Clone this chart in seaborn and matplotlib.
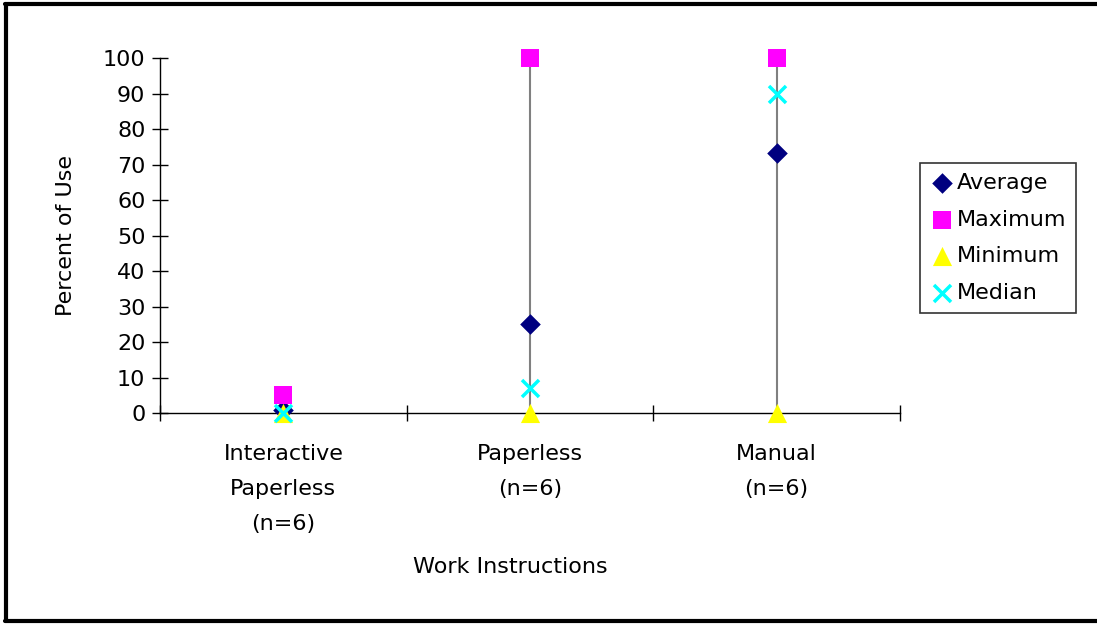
import numpy as np
import pandas as pd
import seaborn as sns
import matplotlib.pyplot as plt
from matplotlib.lines import Line2D

categories = ['Interactive\nPaperless\n(n=6)', 'Paperless\n(n=6)', 'Manual\n(n=6)']
average = [0.8, 25.0, 73.3]
maximum = [5.0, 100.0, 100.0]
minimum = [0.0, 0.0, 0.0]
median = [0.0, 7.0, 90.0]

series = ['Average', 'Maximum', 'Minimum', 'Median']
colors = {'Average': '#000080', 'Maximum': '#FF00FF', 'Minimum': '#FFFF00', 'Median': '#00FFFF'}
markers = {'Average': 'D', 'Maximum': 's', 'Minimum': '^', 'Median': 'x'}
sizes = {'Average': 110, 'Maximum': 150, 'Minimum': 190, 'Median': 150}

df = pd.DataFrame({
    'cat': np.tile(np.arange(len(categories)), 4),
    'value': average + maximum + minimum + median,
    'series': np.repeat(series, len(categories)),
})

sns.set_style('white')
plt.rcParams['font.family'] = ['DejaVu Sans']
plt.rcParams['text.color'] = 'black'
plt.rcParams['axes.labelcolor'] = 'black'
plt.rcParams['xtick.color'] = 'black'
plt.rcParams['ytick.color'] = 'black'

FS = 16

fig = plt.figure(figsize=(10.97, 6.25), dpi=100)
ax = fig.add_axes([160 / 1097, 1 - 413 / 625, 740 / 1097, 355 / 625])

# high-low lines
ax.vlines(np.arange(len(categories)), minimum, maximum, color='#808080', lw=1.5, zorder=1)

for s in series:
    d = df[df['series'] == s]
    sns.scatterplot(data=d, x='cat', y='value', ax=ax, color=colors[s], marker=markers[s],
                    s=sizes[s], linewidth=2.5 if s == 'Median' else 0, label=s, zorder=3,
                    clip_on=False)

ax.set_xlim(-0.5, 2.5)
ax.set_ylim(0, 100)
ax.set_yticks(range(0, 101, 10))
ax.set_xticks(range(len(categories)))
ax.set_xticklabels(categories, linespacing=1.95)
ax.set_xticks([-0.5, 0.5, 1.5, 2.5], minor=True)
ax.tick_params(axis='x', which='major', bottom=True, length=0, pad=22, labelsize=FS)
ax.tick_params(axis='x', which='minor', bottom=True, direction='inout', length=12, width=1,
               color='black')
ax.tick_params(axis='y', left=True, direction='inout', length=12, width=1, color='black',
               labelsize=FS, pad=4.5)

for side in ['top', 'right']:
    ax.spines[side].set_visible(False)
for side in ['left', 'bottom']:
    ax.spines[side].set_color('black')
    ax.spines[side].set_linewidth(1)

ax.set_xlabel('Work Instructions', fontsize=FS)
ax.set_ylabel('Percent of Use', fontsize=FS, labelpad=19)
ax.xaxis.set_label_coords(350 / 740, -(557 - 413) / 355)

leg = ax.legend(loc='upper left', bbox_to_anchor=(920 / 1097, 1 - 163 / 625),
                bbox_transform=fig.transFigure, fontsize=FS, frameon=True, fancybox=False,
                borderpad=0.45, labelspacing=0.75, handletextpad=0.1, handlelength=1.1,
                borderaxespad=0)
leg.get_frame().set_edgecolor('black')
leg.get_frame().set_linewidth(1.2)

# outer chart border
fig.add_artist(Line2D([6 / 1097, 6 / 1097], [1 - 4 / 625, 1 - 621 / 625], color='black', lw=3,
                      transform=fig.transFigure))
fig.add_artist(Line2D([5 / 1097, 1.0], [1 - 4 / 625, 1 - 4 / 625], color='black', lw=3,
                      transform=fig.transFigure))
fig.add_artist(Line2D([5 / 1097, 1.0], [1 - 621 / 625, 1 - 621 / 625], color='black', lw=3,
                      transform=fig.transFigure))

fig.savefig('out.png', dpi=100)
